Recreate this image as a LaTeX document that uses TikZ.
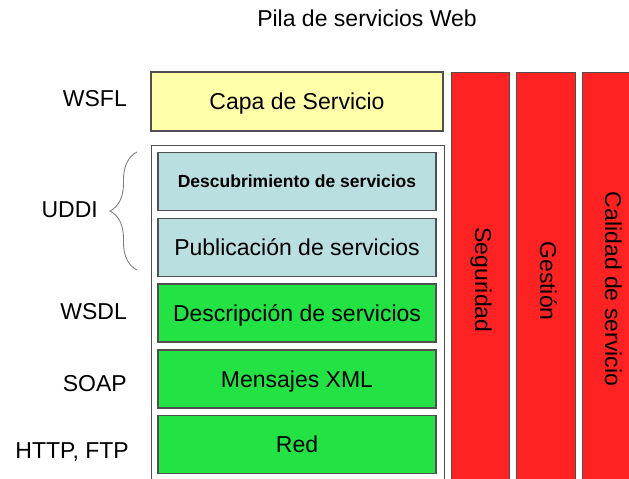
\documentclass[tikz,border=0pt]{standalone}
\usepackage{fontspec}
\setmainfont{Liberation Sans}
\usetikzlibrary{decorations.pathreplacing}
\definecolor{capayellow}{HTML}{FFFFAA}
\definecolor{uddiblue}{HTML}{BADFE1}
\definecolor{layergreen}{HTML}{22E244}
\definecolor{colred}{HTML}{FF2222}
\definecolor{edgegray}{HTML}{505050}
\tikzset{
  big/.style={font=\fontsize{23}{27}\selectfont},
  layer/.style={draw=edgegray, line width=1.2pt, inner sep=0pt, big,
    minimum width=278pt, minimum height=58pt, text height=16.5pt, text depth=0pt},
  column/.style={draw=edgegray, line width=1.2pt, fill=colred, inner sep=0pt, anchor=north west},
  sidelabel/.style={big, anchor=base east, inner sep=0pt},
  coltext/.style={big, rotate=-90, anchor=base, inner sep=0pt},
}
\begin{document}
\begin{tikzpicture}[x=1pt, y=-1pt]
\useasboundingbox (0,0) rectangle (629,479);
\clip (0,0) rectangle (629,479);
\fill[white] (0,0) rectangle (629,479);
% title
\node[big, anchor=base, inner sep=0pt] (title) at (367,26) {Pila de servicios Web};
% service layer
\node[layer, fill=capayellow, minimum width=292pt, minimum height=59pt] (capa) at (297,101.5) {Capa de Servicio};
% outer frame
\node[draw=edgegray, line width=1.2pt, fill=white, anchor=north west, minimum width=293pt, minimum height=360pt, inner sep=0pt] (pila) at (151,145) {};
% inner layers
\node[layer, fill=uddiblue, font=\fontsize{17.5}{20}\selectfont\bfseries, text height=12.5pt] (desc) at (297,181.5) {Descubrimiento de servicios};
\node[layer, fill=uddiblue] (pub) at (297,247.5) {Publicación de servicios};
\node[layer, fill=layergreen] (descr) at (297,313) {Descripción de servicios};
\node[layer, fill=layergreen] (mens) at (297,379) {Mensajes XML};
\node[layer, fill=layergreen] (red) at (297,444.5) {Red};
% columns
\node[column, minimum width=58pt, minimum height=440pt] (colseg) at (451,72) {};
\node[column, minimum width=59pt, minimum height=440pt] (colges) at (516,72) {};
\node[column, minimum width=70pt, minimum height=440pt] (colcal) at (582,72) {};
\node[coltext] (tseg) at (475,280) {Seguridad};
\node[coltext] (tges) at (540,281) {Gestión};
\node[coltext] (tcal) at (605,289) {Calidad de servicio};
% side labels
\node[sidelabel] (wsfl) at (127,106) {WSFL};
\node[sidelabel] (uddi) at (98,217) {UDDI};
\node[sidelabel] (wsdl) at (127,319) {WSDL};
\node[sidelabel] (soap) at (127,391) {SOAP};
\node[sidelabel] (http) at (129,458) {HTTP, FTP};
% brace
\coordinate (bracebot) at (137,270);
\coordinate (bracetop) at (137,152);
\draw[gray, line width=0.9pt, decorate, decoration={brace, amplitude=27pt}] (bracebot) -- (bracetop);
\end{tikzpicture}
\end{document}
